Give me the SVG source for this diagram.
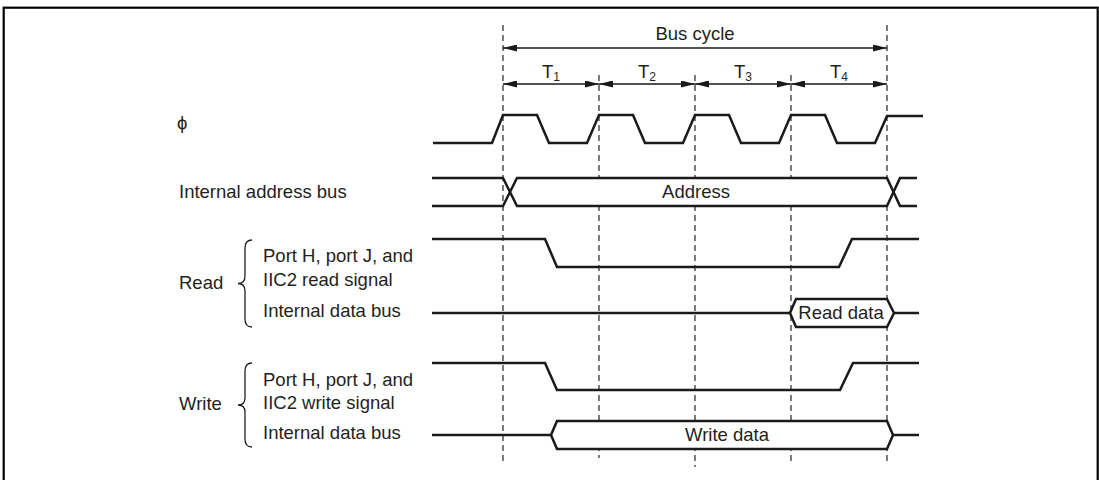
<svg xmlns="http://www.w3.org/2000/svg" width="1099" height="480" viewBox="0 0 1099 480">
<style>
text{font-family:"Liberation Sans",Arial,sans-serif;font-size:18.5px;fill:#231f20}
.c{text-anchor:middle}
.sig{fill:none;stroke:#1a1a1a;stroke-width:2.5;stroke-linejoin:miter}
.box{fill:#fff;stroke:#1a1a1a;stroke-width:2.5}
.dash{stroke:#444;stroke-width:1.4;stroke-dasharray:6,4;fill:none}
.arr{stroke:#1a1a1a;stroke-width:1.3;fill:none;marker-start:url(#ah);marker-end:url(#ah)}
.brace{fill:none;stroke:#231f20;stroke-width:1.3}
</style>
<defs>
<marker id="ah" viewBox="0 0 14 7" refX="14" refY="3.5" markerWidth="14" markerHeight="7" markerUnits="userSpaceOnUse" orient="auto-start-reverse">
<path d="M0,0 L14,3.5 L0,7 z" fill="#1a1a1a"/>
</marker>
</defs>
<rect x="3.7" y="7.7" width="1094" height="500" fill="#fff" stroke="#000" stroke-width="2.2"/>
<g id="gridlines">
<line class="dash" x1="503" y1="25" x2="503" y2="463"/>
<line class="dash" x1="599" y1="75" x2="599" y2="458"/>
<line class="dash" x1="695" y1="75" x2="695" y2="467"/>
<line class="dash" x1="791" y1="75" x2="791" y2="465"/>
<line class="dash" x1="887" y1="25" x2="887" y2="462"/>
</g>
<g id="connectors">
<line class="arr" x1="503" y1="48" x2="887" y2="48"/>
<line class="arr" x1="503" y1="84" x2="599" y2="84"/>
<line class="arr" x1="599" y1="84" x2="695" y2="84"/>
<line class="arr" x1="695" y1="84" x2="791" y2="84"/>
<line class="arr" x1="791" y1="84" x2="887" y2="84"/>
</g>
<g id="timing-labels">
<text class="c" x="695" y="40">Bus cycle</text>
<text x="542" y="78">T<tspan font-size="12" dy="3">1</tspan></text>
<text x="638" y="78">T<tspan font-size="12" dy="3">2</tspan></text>
<text x="734" y="78">T<tspan font-size="12" dy="3">3</tspan></text>
<text x="830" y="78">T<tspan font-size="12" dy="3">4</tspan></text>
</g>
<g id="phi">
<text x="177" y="129" font-size="15">ϕ</text>
<path class="sig" d="M433,143 L492,143 L503,115 L537,115 L549,143 L587,143 L599,115 L633,115 L645,143 L683,143 L695,115 L729,115 L741,143 L779,143 L791,115 L825,115 L837,143 L875,143 L887,116 L923,116"/>
</g>
<g id="address-bus">
<text x="179" y="198">Internal address bus</text>
<polygon points="510,192 517,178 887,178 893.5,192 887,206 517,206" fill="#fff"/>
<path class="sig" d="M432,178 L503,178 L517,206 L887,206 L900,178 L917,178"/>
<path class="sig" d="M432,206 L503,206 L517,178 L887,178 L900,206 L917,206"/>
<text class="c" x="696" y="198">Address</text>
</g>
<g id="read">
<text x="179" y="289">Read</text>
<path class="brace" d="M252,240 Q245,240 245,248 L245,276 Q245,283.5 238,283.5 Q245,283.5 245,291 L245,319 Q245,327 252,327"/>
<text x="263" y="262">Port H, port J, and</text>
<text x="263" y="286">IIC2 read signal</text>
<text x="263" y="317">Internal data bus</text>
<path class="sig" d="M432,239 L545,239 L557,267 L839,267 L852,239 L919,239"/>
<path class="sig" d="M432,313 L790,313 M894,313 L919,313"/>
<polygon class="box" points="790,313 796,299 887,299 894,313 887,327 796,327"/>
<text class="c" x="841" y="319">Read data</text>
</g>
<g id="write">
<text x="179" y="410">Write</text>
<path class="brace" d="M252,363 Q245,363 245,371 L245,398 Q245,405 238,405 Q245,405 245,412 L245,439 Q245,447 252,447"/>
<text x="263" y="386">Port H, port J, and</text>
<text x="263" y="409">IIC2 write signal</text>
<text x="263" y="439">Internal data bus</text>
<path class="sig" d="M432,363 L545,363 L557,390 L840,390 L853,363 L919,363"/>
<path class="sig" d="M432,435 L551,435 M893,435 L919,435"/>
<polygon class="box" points="551,435 557,421 887,421 893,435 887,449 557,449"/>
<text class="c" x="727" y="441">Write data</text>
</g>
</svg>
